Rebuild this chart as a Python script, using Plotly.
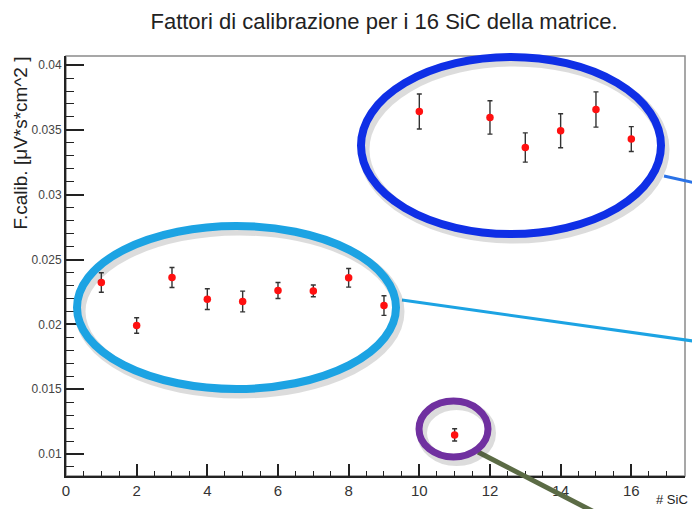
import plotly.graph_objects as go

# Calibration factors for the 16 SiC detectors of the matrix
sic_id = list(range(1, 17))
f_calib = [0.02323, 0.01991, 0.02361, 0.02194, 0.02176, 0.02261, 0.02258, 0.02359,
           0.02145, 0.03642, 0.01147, 0.03596, 0.03364, 0.03493, 0.03657, 0.03429]
f_err = [0.00075, 0.00060, 0.00077, 0.00080, 0.00080, 0.00062, 0.00045, 0.00072,
         0.00076, 0.00135, 0.00047, 0.00129, 0.00113, 0.00131, 0.00136, 0.00096]

x_ticks = [0, 2, 4, 6, 8, 10, 12, 14, 16]
y_ticks = [0.01, 0.015, 0.02, 0.025, 0.03, 0.035, 0.04]
y_tick_text = ["0.01", "0.015", "0.02", "0.025", "0.03", "0.035", "0.04"]

W, H = 692, 509
L, R, T, B = 66, 685, 56, 476


def px(x):
    return (x - L) / (R - L)


def py(y):
    return (B - y) / (B - T)


fig = go.Figure()
fig.add_trace(go.Scatter(
    x=sic_id, y=f_calib, mode="markers",
    marker=dict(color="#ff1010", size=7.5, symbol="circle"),
    error_y=dict(type="data", array=f_err, visible=True,
                 color="#333333", thickness=1.4, width=2.5),
    showlegend=False,
))

shapes = []
# plot frame (top/right in grey)
shapes.append(dict(type="rect", xref="paper", yref="paper", x0=0, x1=1, y0=0, y1=1,
                   line=dict(color="#8a8a8a", width=1.5), layer="below"))


def ellipse(x0, y0, x1, y1, color, width, shadow=True):
    out = []
    if shadow:
        out.append(dict(type="circle", xref="paper", yref="paper",
                        x0=px(x0 + 3), x1=px(x1 + 3), y0=py(y1 + 4), y1=py(y0 + 4),
                        line=dict(color="rgba(60,60,60,0.18)", width=width + 3),
                        layer="above"))
    out.append(dict(type="circle", xref="paper", yref="paper",
                    x0=px(x0), x1=px(x1), y0=py(y1), y1=py(y0),
                    line=dict(color=color, width=width), layer="above"))
    return out


def segment(x0, y0, x1, y1, color, width):
    return dict(type="line", xref="paper", yref="paper",
                x0=px(x0), x1=px(x1), y0=py(y0), y1=py(y1),
                line=dict(color=color, width=width), layer="above")


# connector lines
shapes.append(segment(664, 176, 700, 184, "#2a72e6", 3))
shapes.append(segment(402, 300, 700, 342, "#1ca3e3", 3))
shapes.append(segment(478, 452, 600, 515, "#5b6b45", 5))
# highlight ellipses
shapes += ellipse(361, 57, 661, 234, "#0f2fe6", 8)
shapes += ellipse(77, 226, 396, 389, "#1ca3e3", 8)
shapes += ellipse(419, 401, 488, 457, "#7030a0", 7)

annotations = [
    dict(text="F.calib. [μV*s*cm^2 ]", xref="paper", yref="paper",
         x=px(20), y=py(55), xanchor="center", yanchor="top", textangle=-90,
         showarrow=False, font=dict(size=19, color="#222222")),
    dict(text="# SiC", xref="paper", yref="paper",
         x=px(690), y=py(499), xanchor="right", yanchor="middle",
         showarrow=False, font=dict(size=13, color="#222222")),
]

fig.update_layout(
    width=W, height=H,
    margin=dict(l=L, r=W - R, t=T, b=H - B),
    paper_bgcolor="white", plot_bgcolor="white",
    font=dict(family="Liberation Sans, Arial, sans-serif", color="#333333"),
    title=dict(text="Fattori di calibrazione per i 16 SiC della matrice.",
               xref="container", x=384 / W, xanchor="center",
               yref="container", y=1 - 21 / H, yanchor="middle",
               font=dict(size=22, color="#222222")),
    shapes=shapes,
    annotations=annotations,
    xaxis=dict(range=[0, 17.52], tickvals=x_ticks, ticks="inside", ticklen=12,
               tickwidth=1.5, tickcolor="#222222", showgrid=False, zeroline=False,
               showline=True, linecolor="#222222", linewidth=2,
               tickfont=dict(size=15, color="#333333"),
               minor=dict(dtick=0.5, ticks="inside", ticklen=5, tickwidth=1.2,
                          tickcolor="#222222", showgrid=False)),
    yaxis=dict(range=[0.0083, 0.0407], tickvals=y_ticks, ticktext=y_tick_text,
               ticks="inside", ticklen=18, tickwidth=1.5, tickcolor="#222222",
               showgrid=False, zeroline=False,
               showline=True, linecolor="#222222", linewidth=2,
               tickfont=dict(size=12, color="#444444"),
               minor=dict(dtick=0.001, tick0=0, ticks="inside", ticklen=8,
                          tickwidth=1.2, tickcolor="#222222", showgrid=False)),
)

fig.write_html("out.html")
